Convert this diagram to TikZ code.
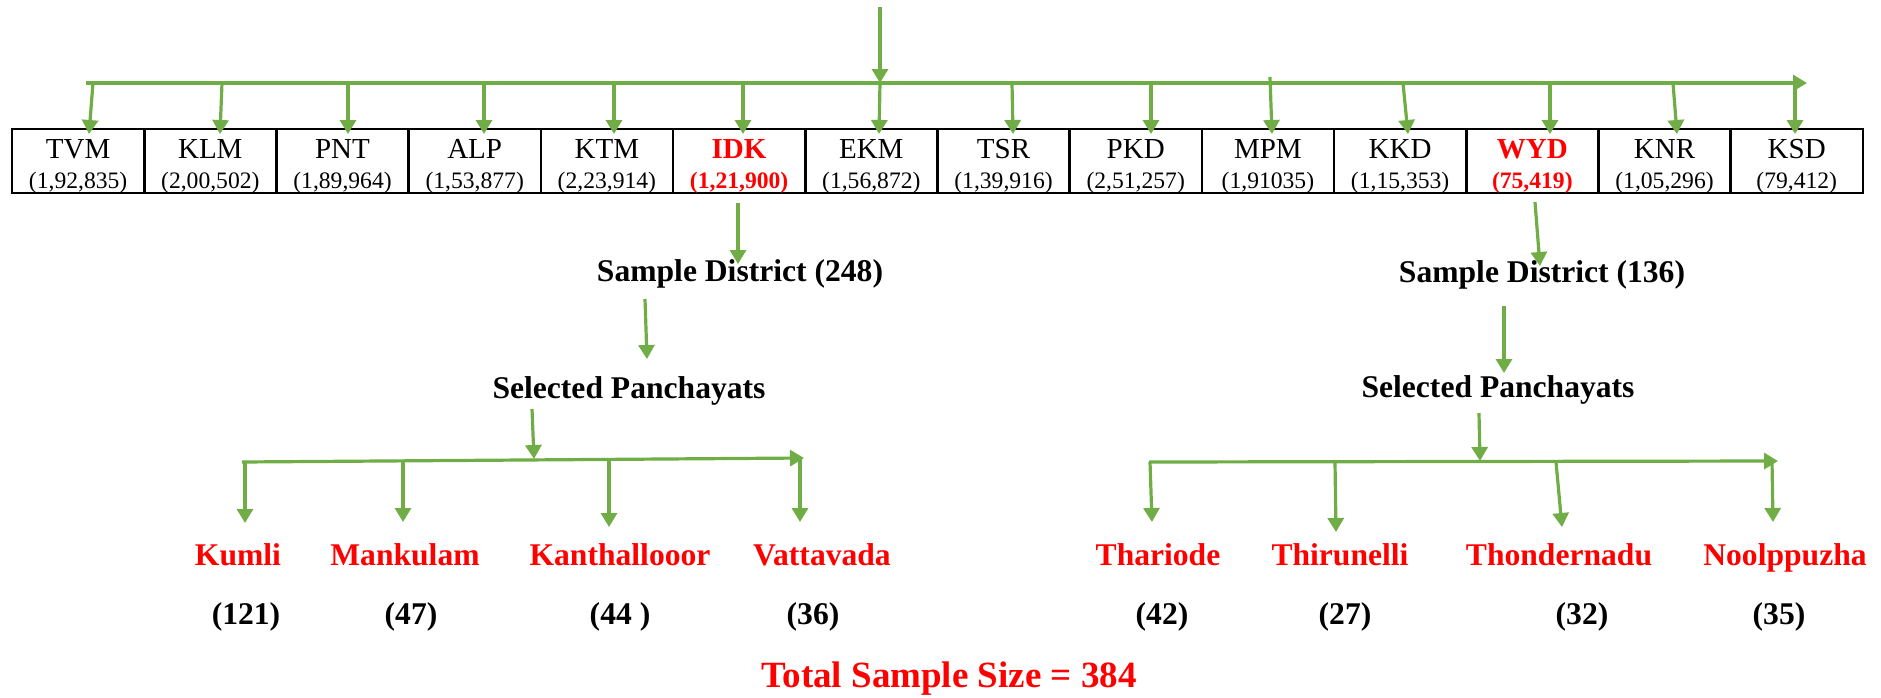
\documentclass[tikz,border=0pt]{standalone}
\usepackage{fontspec}
\setmainfont{Liberation Serif}
\usetikzlibrary{arrows.meta}
\definecolor{flowgreen}{HTML}{70AD47}
\definecolor{hired}{HTML}{FF0000}
\begin{document}
\begin{tikzpicture}[x=0.5pt,y=-0.5pt,
  flow/.style={draw=flowgreen, line width=1.6pt, -{Triangle[length=7pt,width=8pt]}},
  cell/.style={draw=black, line width=1.3pt, minimum width=66.1pt, minimum height=32pt, inner sep=0pt, outer sep=0pt},
  abbr/.style={font=\fontsize{14.5}{16}\selectfont, anchor=base, inner sep=0pt},
  pop/.style={font=\fontsize{11.8}{14}\selectfont, anchor=base, inner sep=0pt},
  plain/.style={},
  hot/.style={text=hired, execute at begin node=\bfseries},
  lbl/.style={font=\fontsize{15.8}{18}\selectfont\bfseries, anchor=base, inner sep=0pt},
  place/.style={lbl, text=hired},
  count/.style={lbl},
  total/.style={font=\fontsize{18.5}{21}\selectfont\bfseries, text=hired, anchor=base, inner sep=0pt}
]
\useasboundingbox (0,0) rectangle (1881,697);

% distribution bus above the district table
\coordinate (src) at (880,7);
\coordinate (busL) at (86,83);
\coordinate (busR) at (1807,83);
\draw[flow] (busL) -- (busR);

% district table with one arrow into each cell
% fields: index / code / population / style / arrow start x / arrow start y / arrow end x
\foreach \i/\ab/\pv/\st/\ax/\ay/\bx in {
 1/TVM/{(1,92,835)}/plain/93/83/89,
 2/KLM/{(2,00,502)}/plain/222/83/220,
 3/PNT/{(1,89,964)}/plain/348/83/348,
 4/ALP/{(1,53,877)}/plain/484/83/484,
 5/KTM/{(2,23,914)}/plain/614/83/614,
 6/IDK/{(1,21,900)}/hot/743/83/743,
 7/EKM/{(1,56,872)}/plain/880/83/879,
 8/TSR/{(1,39,916)}/plain/1012/83/1013,
 9/PKD/{(2,51,257)}/plain/1151/83/1151,
 10/MPM/{(1,91035)}/plain/1270/77/1272,
 11/KKD/{(1,15,353)}/plain/1403/83/1408,
 12/WYD/{(75,419)}/hot/1550/83/1550,
 13/KNR/{(1,05,296)}/plain/1673/83/1677,
 14/KSD/{(79,412)}/plain/1795/83/1795}
{
 \node[cell] (c\i) at ({12+132.2*(\i-0.5)},161) {};
 \node[abbr,\st] (ab\i) at ({12+132.2*(\i-0.5)},158) {\ab};
 \node[pop,\st] (pv\i) at ({12+132.2*(\i-0.5)},188) {\pv};
 \coordinate (t\i) at (\ax,\ay);
 \coordinate (h\i) at (\bx,134);
 \draw[flow] (t\i) -- (h\i);
}
\draw[flow] (src) -- (t7);

% ---------- Idukki branch ----------
\node[lbl] (sd1) at (740,281) {Sample District (248)};
\node[lbl] (sp1) at (629,398) {Selected Panchayats};
\coordinate (a1s) at (738,203);   \coordinate (a1e) at (738,264);
\coordinate (a2s) at (645,299);   \coordinate (a2e) at (647,359);
\coordinate (a3s) at (532,409);   \coordinate (a3e) at (534,459);
\draw[flow] (a1s) -- (a1e);
\draw[flow] (a2s) -- (a2e);
\draw[flow] (a3s) -- (a3e);
\coordinate (b1L) at (242,462);
\coordinate (b1R) at (804,458);
\draw[flow] (b1L) -- (b1R);

\node[place] (n1) at (238,565) {Kumli};
\node[place] (n2) at (405,565) {Mankulam};
\node[place] (n3) at (620,565) {Kanthallooor};
\node[place] (n4) at (822,565) {Vattavada};
\node[count] (v1) at (246,624) {(121)};
\node[count] (v2) at (411,624) {(47)};
\node[count] (v3) at (620,624) {(44 )};
\node[count] (v4) at (813,624) {(36)};

\foreach \k/\xs/\ys/\xe/\ye in {1/245/462/245/523, 2/403/461/403/522, 3/609/460/609/527, 4/800/458/800/522}{
 \coordinate (d\k s) at (\xs,\ys);
 \coordinate (d\k e) at (\xe,\ye);
 \draw[flow] (d\k s) -- (d\k e);
}

% ---------- Wayanad branch ----------
\node[lbl] (sd2) at (1542,282) {Sample District (136)};
\node[lbl] (sp2) at (1498,397) {Selected Panchayats};
\coordinate (a4s) at (1535,202);  \coordinate (a4e) at (1540,266);
\coordinate (a5s) at (1504,306);  \coordinate (a5e) at (1504,373);
\coordinate (a6s) at (1479,413);  \coordinate (a6e) at (1480,461);
\draw[flow] (a4s) -- (a4e);
\draw[flow] (a5s) -- (a5e);
\draw[flow] (a6s) -- (a6e);
\coordinate (b2L) at (1149,462);
\coordinate (b2R) at (1778,461);
\draw[flow] (b2L) -- (b2R);

\node[place] (n5) at (1158,565) {Thariode};
\node[place] (n6) at (1340,565) {Thirunelli};
\node[place] (n7) at (1559,565) {Thondernadu};
\node[place] (n8) at (1785,565) {Noolppuzha};
\node[count] (v5) at (1162,624) {(42)};
\node[count] (v6) at (1345,624) {(27)};
\node[count] (v7) at (1582,624) {(32)};
\node[count] (v8) at (1779,624) {(35)};

\foreach \k/\xs/\ys/\xe/\ye in {5/1150/462/1152/522, 6/1335/462/1336/532, 7/1556/462/1562/527, 8/1772/461/1773/522}{
 \coordinate (d\k s) at (\xs,\ys);
 \coordinate (d\k e) at (\xe,\ye);
 \draw[flow] (d\k s) -- (d\k e);
}

\node[total] (tot) at (949,687) {Total Sample Size = 384};
\end{tikzpicture}
\end{document}
